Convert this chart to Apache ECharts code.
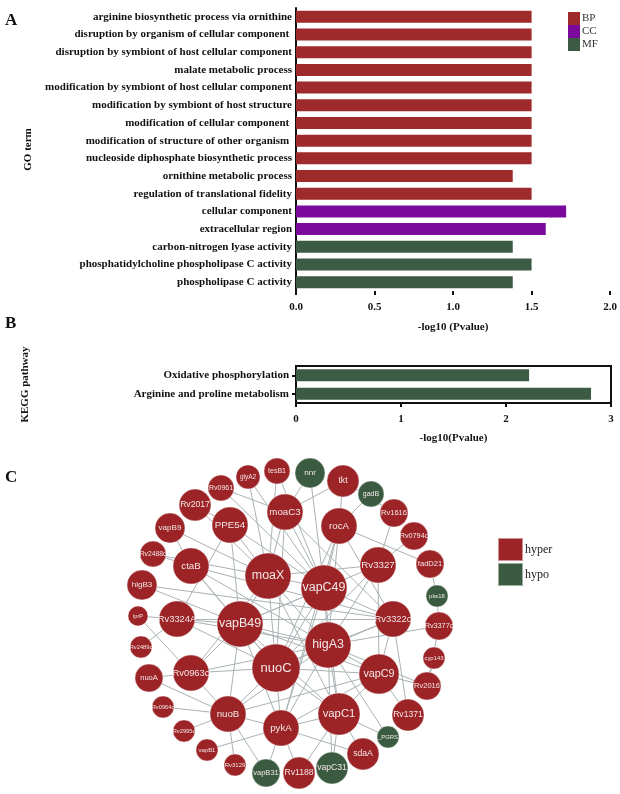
<!DOCTYPE html>
<html>
<head>
<meta charset="utf-8">
<script src="https://cdn.jsdelivr.net/npm/echarts@6/dist/echarts.min.js"></script>
<style>
  body { margin: 0; background: #fff; }
  #main { width: 620px; height: 794px; }
</style>
</head>
<body>
<div id="main"></div>
<script>
// A: GO enrichment
var goTerms = [
  'arginine biosynthetic process via ornithine',
  'disruption by organism of cellular component ',
  'disruption by symbiont of host cellular component',
  'malate metabolic process',
  'modification by symbiont of host cellular component',
  'modification by symbiont of host structure',
  'modification of cellular component ',
  'modification of structure of other organism ',
  'nucleoside diphosphate biosynthetic process',
  'ornithine metabolic process',
  'regulation of translational fidelity',
  'cellular component',
  'extracellular region',
  'carbon-nitrogen lyase activity',
  'phosphatidylcholine phospholipase C activity',
  'phospholipase C activity'
];
var goGroup = ['BP','BP','BP','BP','BP','BP','BP','BP','BP','BP','BP','CC','CC','MF','MF','MF'];
var goValues = [1.5, 1.5, 1.5, 1.5, 1.5, 1.5, 1.5, 1.5, 1.5, 1.38, 1.5, 1.72, 1.59, 1.38, 1.5, 1.38];
var goTicks = [0, 0.5, 1, 1.5, 2];

// B: KEGG
var keggPathways = ['Oxidative phosphorylation', 'Arginine and proline metabolism'];
var keggValues = [2.22, 2.81];

// C: network (layout coordinates as drawn in the figure)
var geneNames = ['glyA2','tesB1','nnr','tkt','gadB','Rv1616','Rv0794c','fadD21','pks18','Rv3377c',
  'cyp143','Rv2016','Rv1371','_PGRS','sdaA','vapC31','Rv1188','vapB31','Rv3129','vapB1',
  'Rv2995c','Rv0964c','nuoA','Rv2489c','lprP','higB3','Rv2488c','vapB9','Rv2017','Rv0961',
  'PPE54','moaC3','rocA','ctaB','moaX','vapC49','Rv3327','Rv3324A','vapB49','higA3',
  'Rv3322c','nuoC','Rv0963c','vapC9','nuoB','pykA','vapC1'];
var geneStatus = ['hyper','hyper','hypo','hyper','hypo','hyper','hyper','hyper','hypo','hyper',
  'hyper','hyper','hyper','hypo','hyper','hypo','hyper','hypo','hyper','hyper',
  'hyper','hyper','hyper','hyper','hyper','hyper','hyper','hyper','hyper','hyper',
  'hyper','hyper','hyper','hyper','hyper','hyper','hyper','hyper','hyper','hyper',
  'hyper','hyper','hyper','hyper','hyper','hyper','hyper'];
var geneDegree = [4,5,7,8,5,6,6,6,3,6,
  3,6,8,3,8,8,8,6,3,3,
  3,3,6,3,2,7,5,7,8,5,
  10,10,10,10,15,15,10,10,15,15,
  10,16,10,12,10,10,13];
var geneX = [248,277,310,343,371,394,414,430,437,439,
  434,427,408,388,363,332,299,266,235,207,
  184,163,149,141,138,142,153,170,195,221,
  230,285,339,191,268,324,378,177,240,328,
  393,276,191,379,228,281,339];
var geneY = [477,471,473,481,494,513,536,564,596,626,
  658,686,715,737,754,768,773,773,765,750,
  731,707,678,647,616,585,554,528,505,488,
  525,512,526,566,576,588,565,619,624,645,
  619,668,673,674,714,728,714];
var geneLinks = [
  ['glyA2','moaX'],['glyA2','vapC49'],['tesB1','moaX'],['tesB1','vapC49'],['nnr','moaC3'],['nnr','vapC49'],
  ['tkt','rocA'],['tkt','moaC3'],['tkt','Rv1616'],['gadB','rocA'],['Rv1616','Rv3327'],['Rv0794c','Rv3327'],
  ['rocA','fadD21'],['fadD21','pks18'],['pks18','Rv3377c'],['Rv3377c','higA3'],['Rv3377c','Rv2016'],
  ['cyp143','Rv2016'],['Rv2016','vapC9'],['Rv2016','higA3'],['Rv1371','vapC9'],['Rv1371','Rv3322c'],
  ['_PGRS','vapC1'],['_PGRS','higA3'],['sdaA','vapC1'],['sdaA','pykA'],['vapC31','vapC1'],['vapC31','higA3'],
  ['Rv1188','pykA'],['Rv1188','vapC1'],['vapB31','pykA'],['vapB31','nuoB'],['Rv3129','nuoB'],['vapB1','pykA'],
  ['Rv2995c','nuoB'],['Rv0964c','nuoB'],['nuoA','Rv0963c'],['nuoA','nuoB'],['Rv2489c','Rv3324A'],
  ['lprP','Rv0963c'],['lprP','Rv3324A'],['higB3','vapB49'],['higB3','Rv3322c'],['Rv2488c','ctaB'],
  ['Rv2488c','moaX'],['vapB9','moaX'],['vapB9','ctaB'],['Rv2017','moaX'],['Rv2017','PPE54'],
  ['Rv0961','moaC3'],['Rv0961','vapC49'],
  ['PPE54','moaX'],['PPE54','vapB49'],['PPE54','vapC49'],['PPE54','Rv3324A'],
  ['moaC3','moaX'],['moaC3','vapC49'],['moaC3','nuoC'],['moaC3','Rv3322c'],
  ['rocA','vapC49'],['rocA','higA3'],['rocA','Rv3322c'],['rocA','nuoC'],['rocA','pykA'],
  ['ctaB','vapB49'],['ctaB','nuoC'],['ctaB','higA3'],['ctaB','Rv3322c'],
  ['moaX','vapB49'],['moaX','nuoC'],['moaX','higA3'],['moaX','vapC49'],['moaX','vapC1'],['moaX','Rv3327'],['moaX','Rv0963c'],
  ['vapC49','vapB49'],['vapC49','higA3'],['vapC49','nuoC'],['vapC49','pykA'],['vapC49','vapC1'],['vapC49','Rv3322c'],
  ['Rv3327','higA3'],['Rv3327','vapB49'],['Rv3327','nuoC'],['Rv3327','vapC9'],
  ['Rv3324A','vapB49'],['Rv3324A','nuoC'],['Rv3324A','higA3'],['Rv3324A','Rv3322c'],
  ['vapB49','higA3'],['vapB49','nuoC'],['vapB49','nuoB'],['vapB49','vapC1'],['vapB49','vapC9'],['vapB49','pykA'],
  ['higA3','nuoC'],['higA3','vapC9'],['higA3','vapC1'],['higA3','pykA'],['higA3','nuoB'],['higA3','Rv3322c'],
  ['Rv3322c','vapC9'],['Rv3322c','nuoC'],
  ['nuoC','Rv0963c'],['nuoC','nuoB'],['nuoC','pykA'],['nuoC','vapC1'],['nuoC','vapC9'],
  ['Rv0963c','nuoB'],['Rv0963c','vapB49'],['Rv0963c','higA3'],
  ['vapC9','vapC1'],['vapC9','pykA'],['vapC9','nuoB'],['nuoB','pykA'],['pykA','vapC1']
];

var groupColors = { BP: '#9e2a2b', CC: '#7b0a9c', MF: '#3c5b44' };
var netColors = { hyper: '#9c2427', hypo: '#3a5b40' };
var serif = '"Liberation Serif", "Times New Roman", serif';

var chart = echarts.init(document.getElementById('main'));

// 每个分组一条系列，堆叠到同一位置
var goSeries = ['BP', 'CC', 'MF'].map(function (g) {
  return {
    name: g,
    type: 'bar',
    stack: 'go',
    xAxisIndex: 0,
    yAxisIndex: 0,
    barWidth: 12,
    itemStyle: { color: groupColors[g] },
    data: goValues.map(function (v, i) { return goGroup[i] === g ? v : '-'; })
  };
});

var nodes = geneNames.map(function (n, i) {
  var size = 16 + 2 * geneDegree[i];
  var fs = Math.max(5.5, Math.min(13, size * 0.27));
  if (n.length > 6) fs = Math.min(fs, size * 0.26);
  return {
    name: n,
    value: [geneX[i], geneY[i]],
    symbolSize: size,
    category: geneStatus[i] === 'hyper' ? 0 : 1,
    label: { fontSize: fs }
  };
});
var links = geneLinks.map(function (l) { return { source: l[0], target: l[1] }; });

chart.setOption({
  animation: false,
  backgroundColor: '#fff',
  graphic: [
    { type: 'text', left: 5, top: 12, style: { text: 'A', font: 'bold 17px ' + serif, fill: '#111' } },
    { type: 'text', left: 5, top: 315, style: { text: 'B', font: 'bold 17px ' + serif, fill: '#111' } },
    { type: 'text', left: 5, top: 469, style: { text: 'C', font: 'bold 17px ' + serif, fill: '#111' } }
  ],
  legend: [
    {
      data: ['BP', 'CC', 'MF'],
      orient: 'vertical', left: 563, top: 7,
      icon: 'rect', itemWidth: 12, itemHeight: 13, itemGap: 0,
      textStyle: { fontFamily: serif, fontSize: 11, color: '#333', padding: [0, 0, 0, -3] }
    },
    {
      data: ['hyper', 'hypo'],
      orient: 'vertical', left: 492, top: 532,
      icon: 'rect', itemWidth: 25, itemHeight: 23, itemGap: 0,
      textStyle: { fontFamily: serif, fontSize: 12, color: '#222', padding: [0, 0, 0, -3] }
    }
  ],
  grid: [
    { left: 296, top: 8, width: 315, height: 283 },
    { left: 296, top: 366, width: 315, height: 37, show: true, borderColor: '#111', borderWidth: 2 },
    { left: 0, top: 0, width: 620, height: 794 }
  ],
  xAxis: [
    {
      gridIndex: 0, type: 'value', min: goTicks[0], max: goTicks[goTicks.length - 1], interval: 0.5,
      name: '-log10 (Pvalue)', nameLocation: 'middle', nameGap: 31,
      nameTextStyle: { fontFamily: serif, fontWeight: 'bold', fontSize: 11, color: '#111' },
      axisLine: { lineStyle: { color: '#111', width: 2 } },
      axisTick: { show: true, length: 4, lineStyle: { color: '#111', width: 2 } },
      axisLabel: { fontFamily: serif, fontWeight: 'bold', fontSize: 11, color: '#111', margin: 11,
        formatter: function (v) { return v.toFixed(1); } },
      splitLine: { show: false }
    },
    {
      gridIndex: 1, type: 'value', min: 0, max: 3, interval: 1,
      name: '-log10(Pvalue)', nameLocation: 'middle', nameGap: 30,
      nameTextStyle: { fontFamily: serif, fontWeight: 'bold', fontSize: 11, color: '#111' },
      axisLine: { lineStyle: { color: '#111', width: 2 } },
      axisTick: { show: true, length: 4, lineStyle: { color: '#111', width: 2 } },
      axisLabel: { fontFamily: serif, fontWeight: 'bold', fontSize: 11, color: '#111', margin: 11 },
      splitLine: { show: false }
    },
    { gridIndex: 2, type: 'value', min: 0, max: 620, show: false }
  ],
  yAxis: [
    {
      gridIndex: 0, type: 'category', inverse: true, data: goTerms,
      name: 'GO term', nameLocation: 'middle', nameGap: 262, nameRotate: 90,
      nameTextStyle: { fontFamily: serif, fontWeight: 'bold', fontSize: 11, color: '#111' },
      axisLine: { lineStyle: { color: '#111', width: 2 } },
      axisTick: { show: false },
      axisLabel: { fontFamily: serif, fontWeight: 'bold', fontSize: 11, color: '#111', margin: 4 }
    },
    {
      gridIndex: 1, type: 'category', inverse: true, data: keggPathways,
      name: 'KEGG pathway', nameLocation: 'middle', nameGap: 265, nameRotate: 90,
      nameTextStyle: { fontFamily: serif, fontWeight: 'bold', fontSize: 11, color: '#111' },
      axisLine: { lineStyle: { color: '#111', width: 2 } },
      axisTick: { show: true, length: 4, alignWithLabel: true, lineStyle: { color: '#111', width: 2 } },
      axisLabel: { fontFamily: serif, fontWeight: 'bold', fontSize: 11, color: '#111', margin: 7 }
    },
    { gridIndex: 2, type: 'value', min: 0, max: 794, inverse: true, show: false }
  ],
  series: goSeries.concat([
    {
      name: 'KEGG',
      type: 'bar',
      xAxisIndex: 1, yAxisIndex: 1,
      barWidth: 12,
      itemStyle: { color: groupColors.MF },
      data: keggValues
    },
    {
      name: 'network',
      type: 'graph',
      coordinateSystem: 'cartesian2d',
      xAxisIndex: 2, yAxisIndex: 2,
      categories: [
        { name: 'hyper', itemStyle: { color: netColors.hyper } },
        { name: 'hypo', itemStyle: { color: netColors.hypo } }
      ],
      data: nodes,
      links: links,
      itemStyle: { borderColor: 'rgba(255,255,255,0.5)', borderWidth: 0.8 },
      lineStyle: { color: '#aab3b5', width: 1, opacity: 1 },
      label: { show: true, position: 'inside', color: '#f3e6e6', fontFamily: '"Liberation Sans", Arial, sans-serif' },
      emphasis: { disabled: true }
    }
  ])
});
</script>
</body>
</html>
